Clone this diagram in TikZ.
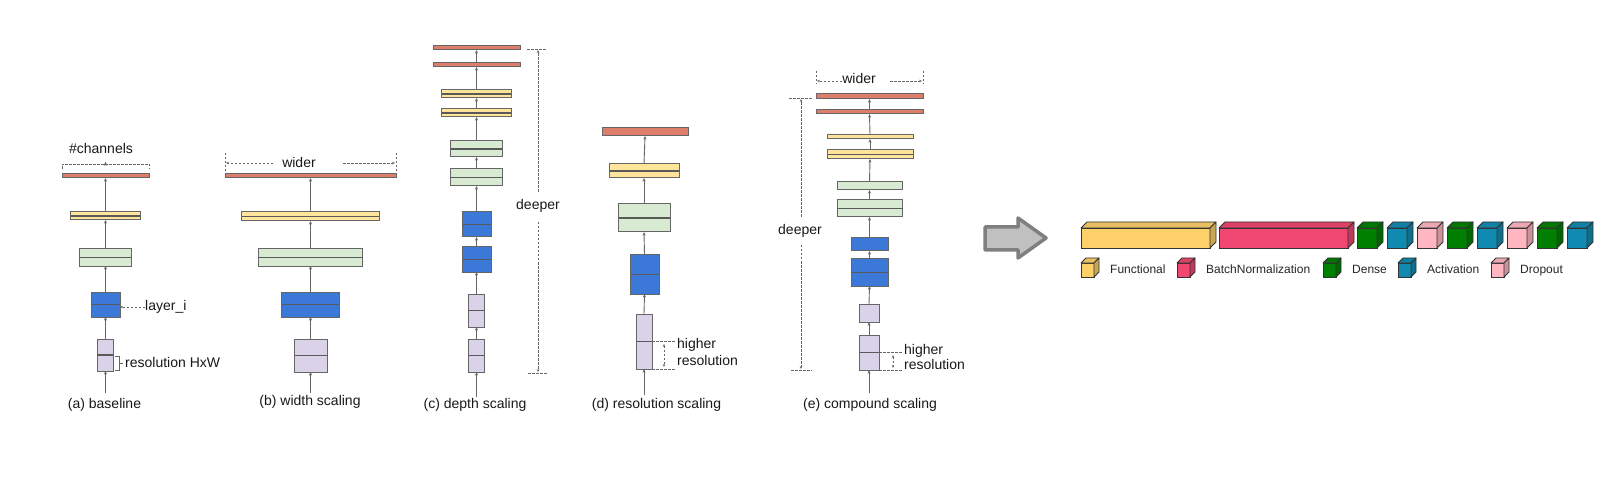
\documentclass[tikz,border=0pt]{standalone}
\usepackage{fontspec}
\setmainfont{Liberation Sans}
\usetikzlibrary{arrows.meta,calc}
\definecolor{cred}{HTML}{DD7E6B}
\definecolor{cyel}{HTML}{FFE599}
\definecolor{cgrn}{HTML}{D9EAD3}
\definecolor{cblu}{HTML}{3C78D8}
\definecolor{clav}{HTML}{D9D2E9}
\definecolor{edge}{HTML}{666666}
\definecolor{midc}{HTML}{595959}
\definecolor{fun}{HTML}{FDD069}
\definecolor{bn}{HTML}{EF476F}
\definecolor{dns}{HTML}{008000}
\definecolor{act}{HTML}{118AB2}
\definecolor{drp}{HTML}{FFB6C1}
\definecolor{arrfill}{HTML}{C0C0C0}
\definecolor{arredge}{HTML}{7F7F7F}
\tikzset{
 lyr/.style={draw=edge, line width=1pt, inner sep=0pt, outer sep=0pt, rectangle},
 two/.style={path picture={\draw[midc, line width=1.3pt] (path picture bounding box.west) -- (path picture bounding box.east);}},
 conn/.style={draw=edge, line width=0.9pt, -{Stealth[length=3.5pt,width=3pt]}},
 annot/.style={draw=edge, line width=0.7pt, dash pattern=on 2.5pt off 1.5pt},
 annarr/.style={annot, -{Stealth[length=3pt,width=2.5pt]}},
 annboth/.style={annot, {Stealth[length=3pt,width=2.5pt]}-{Stealth[length=3pt,width=2.5pt]}},
 lbl/.style={font=\fontsize{14}{16}\selectfont, inner sep=0pt, text=black!90},
 lgd/.style={font=\fontsize{12}{14}\selectfont, inner sep=0pt, anchor=base west, text=black!85},
 cubefront/.style={draw=black!80, line width=0.8pt, inner sep=0pt, outer sep=0pt, anchor=north west},
 cubeedge/.style={draw=black!80, line width=0.8pt, line join=round},
}
\newcommand{\lay}[7]{\node[lyr,#7,fill=#6,minimum width=#4pt,minimum height=#5pt] (#1) at (#2,#3) {};}
\newcommand{\cube}[7]{%
 \node[cubefront, fill=#7, minimum width=#4pt, minimum height=#5pt] (#1) at (#2,#3) {};
 \draw[cubeedge, fill=#7!92!black] (#1.north west) -- ++(#6,-#6) -- ++(#4,0) -- (#1.north east) -- cycle;
 \draw[cubeedge, fill=#7!80!black] (#1.north east) -- ++(#6,-#6) -- ++(0,#5) -- (#1.south east) -- cycle;}
\begin{document}
\begin{tikzpicture}[x=1pt,y=-1pt]
\fill[white] (0,0) rectangle (1613,494);
\useasboundingbox (0,0) rectangle (1613,494);

% ---------- (a) baseline ----------
\lay{a1}{105.5}{355}{16}{32}{clav}{two}
\lay{a2}{105.5}{304.5}{29}{25}{cblu}{two}
\lay{a3}{105.5}{257.5}{52}{17}{cgrn}{two}
\lay{a4}{105.5}{216}{70}{8}{cyel}{two}
\lay{a5}{105.5}{176}{87}{4}{cred}{}
\coordinate (a0) at (105.5,393);
\draw[conn] (a0) -- (a1.south);
\draw[conn] (a1.north) -- (a2.south);
\draw[conn] (a2.north) -- (a3.south);
\draw[conn] (a3.north) -- (a4.south);
\draw[conn] (a4.north) -- (a5.south);
\node[lbl] (chn) at (101,148) {\#channels};
\draw[annot] (62,169) -- (62,164) -- (149,164) -- (149,169);
\fill[edge] (103.5,165.5) -- (105.5,162) -- (107.5,165.5) -- cycle;
\node[lbl, anchor=west] (lyi) at (145,307) {layer\_i};
\draw[annarr] (lyi.west) -- (a2.east |- lyi.west);
\draw[edge, line width=0.8pt] (115,356) -- (119,356) -- (119,370) -- (115,370) (119,363) -- (123,363);
\node[lbl, anchor=west] (res) at (125,362) {resolution HxW};
\node[lbl] (la) at (104.5,405) {(a) baseline};

% ---------- (b) width scaling ----------
\lay{b1}{310.5}{355.5}{33}{33}{clav}{two}
\lay{b2}{310.5}{304.5}{58}{25}{cblu}{two}
\lay{b3}{310.5}{257.5}{104}{17}{cgrn}{two}
\lay{b4}{310.5}{216.5}{138}{9}{cyel}{two}
\lay{b5}{310.5}{176}{171}{4}{cred}{}
\coordinate (b0) at (310.5,393);
\draw[conn] (b0) -- (b1.south);
\draw[conn] (b1.north) -- (b2.south);
\draw[conn] (b2.north) -- (b3.south);
\draw[conn] (b3.north) -- (b4.south);
\draw[conn] (b4.north) -- (b5.south);
\draw[annot] (225,153) -- (225,173);
\draw[annot] (396,153) -- (396,173);
\node[lbl] (bw) at (299,162) {wider};
\draw[annarr] (273,163) -- (226,163);
\draw[annarr] (343,163) -- (395,163);
\node[lbl] (lb) at (310,402) {(b) width scaling};

% ---------- (c) depth scaling ----------
\lay{c1}{476.5}{355.5}{16}{33}{clav}{two}
\lay{c2}{476.5}{310.5}{16}{33}{clav}{two}
\lay{c3}{476.5}{259.5}{29}{25}{cblu}{two}
\lay{c4}{476.5}{224.5}{29}{25}{cblu}{two}
\lay{c5}{476.5}{177.5}{52}{17}{cgrn}{two}
\lay{c6}{476.5}{149}{52}{16}{cgrn}{two}
\lay{c7}{476.5}{113}{70}{8}{cyel}{two}
\lay{c8}{476.5}{94}{70}{8}{cyel}{two}
\lay{c9}{476.5}{65}{87}{4}{cred}{}
\lay{c10}{476.5}{48}{87}{4}{cred}{}
\coordinate (c0) at (476.5,397);
\draw[conn] (c0) -- (c1.south);
\draw[conn] (c1.north) -- (c2.south);
\draw[conn] (c2.north) -- (c3.south);
\draw[conn] (c3.north) -- (c4.south);
\draw[conn] (c4.north) -- (c5.south);
\draw[conn] (c5.north) -- (c6.south);
\draw[conn] (c6.north) -- (c7.south);
\draw[conn] (c7.north) -- (c8.south);
\draw[conn] (c8.north) -- (c9.south);
\draw[conn] (c9.north) -- (c10.south);
\draw[annot] (527,49) -- (547,49);
\draw[annot] (528,373) -- (548,373);
\node[lbl] (cd) at (538,206) {deeper};
\draw[annarr] (538,192) -- (538,50);
\draw[annarr] (538,222) -- (538,372);
\node[lbl] (lc) at (475,405) {(c) depth scaling};

% ---------- (d) resolution scaling ----------
\lay{d1}{644}{341.5}{16}{55}{clav}{two}
\lay{d2}{644.5}{274.5}{29}{39}{cblu}{two}
\lay{d3}{644}{218}{52}{28}{cgrn}{two}
\lay{d4}{644}{171}{70}{14}{cyel}{two}
\lay{d5}{645}{132}{86}{8}{cred}{}
\coordinate (d0) at (644,395);
\draw[conn] (d0) -- (d1.south);
\draw[conn] (d1.north) -- (d2.south);
\draw[conn] (d2.north) -- (d3.south);
\draw[conn] (d3.north) -- (d4.south);
\draw[conn] (d4.north) -- (d5.south);
\draw[annot] (d1.east) -- ++(24,0);
\draw[annot] (d1.south east) -- ++(24,0);
\draw[annboth] (664,344) -- (664,367);
\node[lbl, anchor=base west] (dh) at (677,348) {higher};
\node[lbl, anchor=base west] (dr) at (677,365) {resolution};
\node[lbl] (ld) at (656.5,405) {(d) resolution scaling};

% ---------- (e) compound scaling ----------
\lay{e1}{869}{352.5}{20}{35}{clav}{two}
\lay{e2}{869}{313}{20}{18}{clav}{}
\lay{e3}{869.5}{272.5}{37}{27}{cblu}{two}
\lay{e4}{869.5}{244.5}{37}{13}{cblu}{}
\lay{e5}{869.5}{208.5}{65}{17}{cgrn}{two}
\lay{e6}{869.5}{186}{65}{8}{cgrn}{}
\lay{e7}{870}{154.5}{86}{9}{cyel}{two}
\lay{e8}{870}{137}{86}{4}{cyel}{}
\lay{e9}{869.5}{112}{107}{4}{cred}{}
\lay{e10}{869.5}{96.5}{107}{5}{cred}{}
\coordinate (e0) at (869,393);
\draw[conn] (e0) -- (e1.south);
\draw[conn] (e1.north) -- (e2.south);
\draw[conn] (e2.north) -- (e3.south);
\draw[conn] (e3.north) -- (e4.south);
\draw[conn] (e4.north) -- (e5.south);
\draw[conn] (e5.north) -- (e6.south);
\draw[conn] (e6.north) -- (e7.south);
\draw[conn] (e7.north) -- (e8.south);
\draw[conn] (e8.north) -- (e9.south);
\draw[conn] (e9.north) -- (e10.south);
\draw[annot] (816,71) -- (816,84);
\draw[annot] (923,71) -- (923,84);
\node[lbl] (ew) at (859,78) {wider};
\draw[annarr] (842,81) -- (817,81);
\draw[annarr] (890,81) -- (922,81);
\draw[annot] (789,98) -- (812,98);
\draw[annot] (791,370) -- (812,370);
\node[lbl] (ed) at (800,231) {deeper};
\draw[annarr] (801,217) -- (801,99);
\draw[annarr] (801,245) -- (801,369);
\draw[annot] (e1.east) -- ++(24,0);
\draw[annot] (e1.south east) -- ++(24,0);
\draw[annboth] (893,355) -- (893,368);
\node[lbl, anchor=base west] (eh) at (904,354) {higher};
\node[lbl, anchor=base west] (er) at (904,369) {resolution};
\node[lbl] (le) at (870,405) {(e) compound scaling};

% ---------- big arrow ----------
\draw[fill=arrfill, draw=arredge, line width=3.5pt, line join=round]
 (985,227) -- (1018,227) -- (1018,218) -- (1046,238) -- (1018,258) -- (1018,250) -- (985,250) -- cycle;

% ---------- model blocks ----------
\cube{k1}{1081}{228}{129}{20}{6}{fun}
\cube{k2}{1219}{228}{129}{20}{6}{bn}
\cube{k3}{1357}{228}{20}{20}{6}{dns}
\cube{k4}{1387}{228}{20}{20}{6}{act}
\cube{k5}{1417}{228}{20}{20}{6}{drp}
\cube{k6}{1447}{228}{20}{20}{6}{dns}
\cube{k7}{1477}{228}{20}{20}{6}{act}
\cube{k8}{1507}{228}{20}{20}{6}{drp}
\cube{k9}{1537}{228}{20}{20}{6}{dns}
\cube{k10}{1567}{228}{20}{20}{6}{act}

% ---------- legend ----------
\cube{g1}{1081}{263}{13}{14}{5}{fun}
\node[lgd] (t1) at (1110,273) {Functional};
\cube{g2}{1177}{263}{13}{14}{5}{bn}
\node[lgd] (t2) at (1206,273) {BatchNormalization};
\cube{g3}{1323}{263}{13}{14}{5}{dns}
\node[lgd] (t3) at (1352,273) {Dense};
\cube{g4}{1398}{263}{13}{14}{5}{act}
\node[lgd] (t4) at (1427,273) {Activation};
\cube{g5}{1491}{263}{13}{14}{5}{drp}
\node[lgd] (t5) at (1520,273) {Dropout};
\end{tikzpicture}
\end{document}
